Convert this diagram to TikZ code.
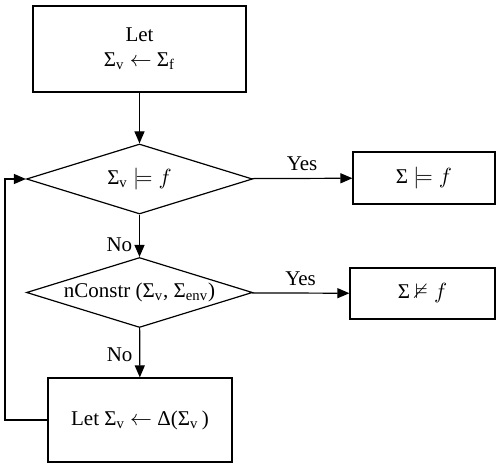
\documentclass[tikz,border=0pt]{standalone}
\usepackage{amssymb}
\usepackage{fontspec}
\setmainfont{Liberation Serif}
\usetikzlibrary{shapes.geometric,arrows.meta}
\newcommand{\SigSub}[1]{Σ\textsubscript{#1}}

\begin{document}
\begin{tikzpicture}[->,>={Triangle[length=6pt,width=5pt]},x=0.5pt,y=-0.5pt,
   line width=0.6pt,font=\fontsize{10.5}{12.5}\selectfont,
   proc/.style={draw,rectangle,inner sep=0pt,align=center},
   decide/.style={draw,diamond,inner sep=0pt,minimum width=113pt,minimum height=35pt}]
   \useasboundingbox (0,0) rectangle (503,465);
   \node[proc,minimum width=106.5pt,minimum height=43pt] (let) at (139.5,49) {Let\\\SigSub{v} $\leftarrow$ \SigSub{f}};
   \node[decide] (test) at (139.5,179) {\makebox[0pt]{\SigSub{v} $\models f$}};
   \node[proc,minimum width=71pt,minimum height=26pt] (sat) at (424,178) {Σ $\models f$};
   \node[decide] (constr) at (139.5,292.5) {\makebox[0pt]{nConstr (\SigSub{v}, \SigSub{env})}};
   \node[proc,minimum width=72.5pt,minimum height=25.5pt] (unsat) at (422.5,293.5) {Σ $\nvDash f$};
   \node[proc,minimum width=92pt,minimum height=42pt] (upd) at (140,420) {Let \SigSub{v} $\leftarrow$ Δ(\SigSub{v}\,)};
   \coordinate (c1) at (5,420);
   \coordinate (c2) at (5,179);

   \path (let) edge (test);
   \path (test) edge node[above] {Yes} (sat);
   \path (test) edge node[left,pos=0.72] {No} (constr);
   \path (constr) edge node[left,pos=0.55] {No} (upd);
   \path (constr) edge node[above] {Yes} (unsat);
   \draw (upd.west) -- (c1) -- (c2) -- (test.west);

\end{tikzpicture}
\end{document}
